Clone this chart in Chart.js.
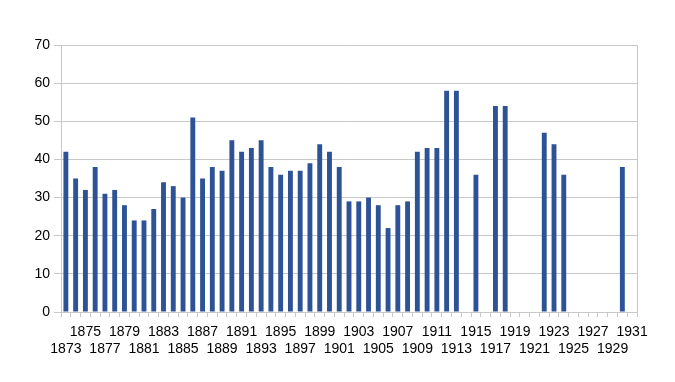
<!DOCTYPE html>
<html>
<head>
<meta charset="utf-8">
<script src="https://cdn.jsdelivr.net/npm/chart.js@4/dist/chart.umd.min.js"></script>
<style>
html,body{margin:0;padding:0;background:#fff;}
#wrap{width:675px;height:382px;position:relative;}
</style>
</head>
<body>
<div id="wrap"><canvas id="c" width="675" height="382"></canvas></div>
<script>
const years = [];
for (let y = 1873; y <= 1931; y++) years.push(String(y));

const values = [
  42, 35, 32, 38, 31, 32, 28, 24, 24, 27,   // 1873-1882
  34, 33, 30, 51, 35, 38, 37, 45, 42, 43,   // 1883-1892
  45, 38, 36, 37, 37, 39, 44, 42, 38, 29,   // 1893-1902
  29, 30, 28, 22, 28, 29, 42, 43, 43, 58,   // 1903-1912
  58, null, 36, null, 54, 54, null, null, null, 47, // 1913-1922
  44, 36, null, null, null, null, null, 38, null    // 1923-1931
];

const yTicks = [0, 10, 20, 30, 40, 50, 60, 70];

const GRID = '#c8c8c8';
const FONT = { family: "'Liberation Sans', Arial, sans-serif", size: 14, lineHeight: 1.18 };

new Chart(document.getElementById('c'), {
  type: 'bar',
  data: {
    labels: years,
    datasets: [{
      data: values,
      backgroundColor: '#2d5296',
      borderWidth: 0,
      categoryPercentage: 1.0,
      barPercentage: 0.5
    }]
  },
  options: {
    responsive: false,
    animation: false,
    devicePixelRatio: 1,
    layout: { padding: { top: 45, right: 38, left: 0, bottom: 0 } },
    plugins: { legend: { display: false }, tooltip: { enabled: false } },
    scales: {
      x: {
        offset: true,
        grid: { offset: true, drawOnChartArea: false, drawTicks: true, tickLength: 5, color: GRID },
        border: { color: GRID },
        ticks: {
          autoSkip: false, maxRotation: 0, minRotation: 0, padding: 7,
          color: '#000', font: FONT,
          callback: function(v, i) {
            if (i % 4 === 2) return [years[i]];
            if (i % 4 === 0) return ['', years[i]];
            return '';
          }
        },
        afterFit: function(s) { s.height = 70; }
      },
      y: {
        min: 0, max: 70,
        afterBuildTicks: function(s) { s.ticks = yTicks.map(v => ({ value: v })); },
        grid: { color: GRID, tickLength: 7 },
        border: { color: GRID },
        ticks: { color: '#000', font: { family: FONT.family, size: 14 }, padding: 4 },
        afterFit: function(s) { s.width = 61; }
      },
      y2: {
        position: 'right',
        min: 0, max: 70,
        grid: { drawOnChartArea: false, drawTicks: false },
        border: { color: GRID },
        ticks: { display: false },
        afterFit: function(s) { s.width = 0; }
      }
    }
  }
});
</script>
</body>
</html>
